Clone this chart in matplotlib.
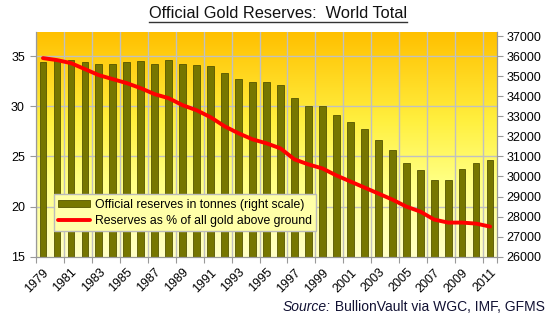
import matplotlib.pyplot as plt
import numpy as np
from matplotlib.colors import LinearSegmentedColormap
from matplotlib.transforms import blended_transform_factory

plt.rcParams["font.family"] = ["Liberation Sans", "DejaVu Sans"]

# Data
years = list(range(1979, 2012))
reserves_tonnes = [35685, 35800, 35817, 35685, 35617, 35617, 35685, 35733, 35617, 35783,
                   35617, 35567, 35517, 35150, 34850, 34700, 34700, 34550, 33917, 33500,
                   33500, 33050, 32733, 32383, 31817, 31300, 30683, 30333, 29800, 29800,
                   30383, 30683, 30833]
reserves_pct = [34.8, 34.6, 34.3, 33.7, 33.1, 32.7, 32.3, 31.8, 31.2, 30.8,
                30.1, 29.6, 28.9, 28.0, 27.3, 26.7, 26.3, 25.8, 24.7, 24.2,
                23.8, 23.1, 22.5, 21.9, 21.3, 20.7, 20.0, 19.5, 18.7, 18.4,
                18.4, 18.3, 18.0]
left_ticks = [15, 20, 25, 30, 35]
right_ticks = list(range(26000, 37001, 1000))

x = np.arange(len(years))

fig = plt.figure(figsize=(5.56, 3.22), dpi=100)
ax = fig.add_axes([0.0647, 0.2028, 0.8293, 0.6978])   # bars, right scale
ax2 = ax.twinx()                                       # line, left scale

ax.set_xlim(-0.5, len(years) - 0.5)
ax.set_ylim(26000, 37200)
ax2.set_ylim(15, 37.4)

# gradient background
cmap = LinearSegmentedColormap.from_list(
    "bg", [(0.0, "#FFFFC8"), (0.35, "#FFFF80"), (0.6, "#FFF040"), (1.0, "#FFC000")])
grad = np.linspace(0, 1, 256).reshape(-1, 1)
ax.imshow(grad, aspect="auto", cmap=cmap, origin="lower",
          extent=[-0.5, len(years) - 0.5, 26000, 37200], zorder=0)

# gridlines (horizontal follow left scale)
gtrans = blended_transform_factory(ax.transAxes, ax2.transData)
for v in left_ticks[1:]:
    ax.plot([0, 1], [v, v], color="#C0C0C0", lw=1, transform=gtrans, zorder=1)
grid_x = np.arange(-0.5, len(years) - 1, 2)
for gx in grid_x:
    ax.axvline(gx, color="#C0C0C0", lw=1, zorder=1)

bars = ax.bar(x, reserves_tonnes, width=0.48, color="#767600",
              edgecolor="#555500", lw=0.6, zorder=2,
              label="Official reserves in tonnes (right scale)")
line, = ax2.plot(x, reserves_pct, color="#FF0000", lw=2.8, solid_capstyle="round",
                 label="Reserves as % of all gold above ground")

# axes styling
for a in (ax, ax2):
    a.spines["top"].set_visible(False)
    for s in ("left", "right", "bottom"):
        a.spines[s].set_color("#999999")

ax.yaxis.tick_right()
ax.set_yticks(right_ticks)
ax.tick_params(axis="y", labelsize=9, length=4, color="#999999", pad=3)
ax2.yaxis.tick_left()
ax2.set_yticks(left_ticks)
ax2.tick_params(axis="y", labelsize=9, length=4, color="#999999", pad=4)

ax.set_xticks(list(grid_x) + [len(years) - 0.5])
ax.set_xticklabels([])
ax.tick_params(axis="x", which="major", length=4, color="#999999")
ax.set_xticks(x[::2], minor=True)
ax.set_xticklabels([str(y) for y in years[::2]], minor=True, rotation=45,
                   ha="right", rotation_mode="anchor", fontsize=9)
ax.tick_params(axis="x", which="minor", length=0, pad=7)

leg = ax2.legend([bars, line], [bars.get_label(), line.get_label()],
                 loc="lower left", bbox_to_anchor=(0.039, 0.114), fontsize=8.8,
                 frameon=True, fancybox=False, framealpha=1, borderpad=0.35,
                 handlelength=2.6, handleheight=0.5, labelspacing=0.35,
                 handletextpad=0.4, borderaxespad=0)
leg.get_frame().set_facecolor("#FFFFA8")
leg.get_frame().set_edgecolor("#BBBBBB")
leg.get_frame().set_linewidth(1)

# title with underline
title = fig.text(0.5, 0.957, "Official Gold Reserves:  World Total", ha="center",
                 va="center", fontsize=11.8, color="#111111")
fig.canvas.draw()
bb = title.get_window_extent().transformed(fig.transFigure.inverted())
fig.add_artist(plt.Line2D([bb.x0, bb.x1], [bb.y0 - 0.003, bb.y0 - 0.003],
                          color="#333333", lw=1, transform=fig.transFigure))

# source note
src = fig.text(0.98, 0.047, " BullionVault via WGC, IMF, GFMS", ha="right",
               va="center", fontsize=10, color="#111133")
fig.canvas.draw()
sb = src.get_window_extent().transformed(fig.transFigure.inverted())
fig.text(sb.x0, 0.047, "Source:", ha="right", va="center", fontsize=10,
         style="italic", color="#111133")

fig.savefig("out.png", dpi=100)
